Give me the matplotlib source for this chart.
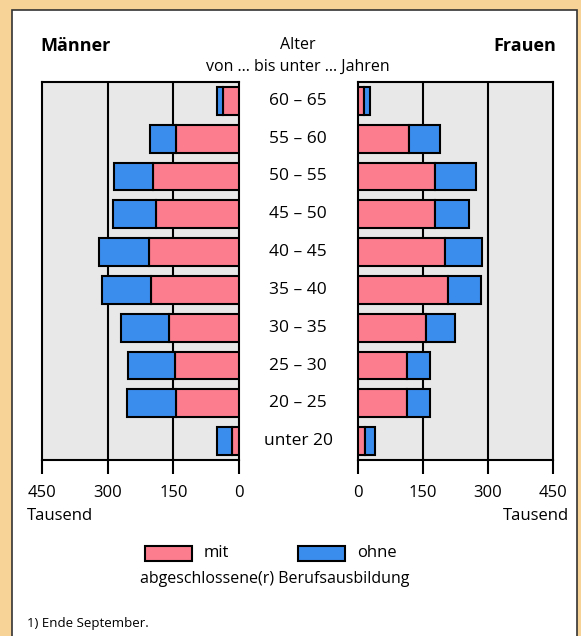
import matplotlib.pyplot as plt
from matplotlib.patches import Rectangle

# --------------------------------------------------
# Data (Tausend), top to bottom
# --------------------------------------------------
ages = ["60 – 65", "55 – 60", "50 – 55", "45 – 50", "40 – 45",
        "35 – 40", "30 – 35", "25 – 30", "20 – 25", "unter 20"]

men_mit = [37, 143, 196, 190, 205, 200, 160, 147, 145, 15]
men_ohne = [13, 61, 90, 98, 115, 114, 109, 107, 111, 36]

women_mit = [13, 118, 177, 177, 201, 208, 158, 114, 113, 15]
women_ohne = [15, 72, 95, 79, 86, 75, 65, 53, 52, 24]

xticks = [0, 150, 300, 450]

pink = "#fb7d8e"
blue = "#3b8ded"
grey = "#e8e8e8"

W, H = 581, 636
fig = plt.figure(figsize=(W / 100, H / 100), dpi=100)
fig.patch.set_facecolor("#f7d398")

# white panel
fig.patches.append(Rectangle((12 / W, -0.01), 565 / W, 1 - 10 / H + 0.01,
                             transform=fig.transFigure, facecolor="white",
                             edgecolor="#333333", linewidth=1.2, zorder=-5))

font = "Open Sans"
plt.rcParams['font.family'] = [font, 'DejaVu Sans']


def px_axes(x0, x1, y0, y1):
    return fig.add_axes([x0 / W, 1 - y1 / H, (x1 - x0) / W, (y1 - y0) / H])


ax_l = px_axes(42, 239, 82, 460)
ax_r = px_axes(358, 553, 82, 460)

y = list(range(len(ages)))

for ax, mit, ohne, inverted in [(ax_l, men_mit, men_ohne, True),
                                (ax_r, women_mit, women_ohne, False)]:
    ax.set_facecolor(grey)
    ax.barh(y, mit, height=0.74, color=pink, edgecolor="black",
            linewidth=1.5, zorder=3)
    ax.barh(y, ohne, left=mit, height=0.74, color=blue, edgecolor="black",
            linewidth=1.5, zorder=3)
    for v in [150, 300]:
        ax.axvline(v, color="black", linewidth=1.5, zorder=1)
    ax.set_ylim(len(ages) - 0.5, -0.5)
    if inverted:
        ax.set_xlim(450, 0)
    else:
        ax.set_xlim(0, 450)
    ax.set_xticks(xticks)
    ax.set_xticklabels([str(t) for t in xticks], fontsize=12)
    ax.set_yticks([])
    ax.tick_params(axis="x", direction="out", length=10, width=1.5, pad=8)
    for s in ax.spines.values():
        s.set_linewidth(1.5)
        s.set_color("black")

# age labels
for i, a in enumerate(ages):
    yy = 82 + (i + 0.5) * 37.8
    fig.text(298 / W, 1 - yy / H, a, ha="center", va="center", fontsize=12.5)

# header
fig.text(40 / W, 1 - 46 / H, "Männer", ha="left", va="center",
         fontsize=13, fontweight="bold")
fig.text(556 / W, 1 - 46 / H, "Frauen", ha="right", va="center",
         fontsize=13, fontweight="bold")
fig.text(298 / W, 1 - 45 / H, "Alter", ha="center", va="center", fontsize=11.5)
fig.text(298 / W, 1 - 67 / H, "von ... bis unter ... Jahren", ha="center",
         va="center", fontsize=11.5)

fig.text(27 / W, 1 - 516 / H, "Tausend", ha="left", va="center", fontsize=12)
fig.text(569 / W, 1 - 516 / H, "Tausend", ha="right", va="center", fontsize=12)

# legend
fig.patches.append(Rectangle((145 / W, 1 - 561 / H), 47 / W, 15 / H,
                             transform=fig.transFigure, facecolor=pink,
                             edgecolor="black", linewidth=1.5))
fig.text(204 / W, 1 - 553 / H, "mit", ha="left", va="center", fontsize=12)
fig.patches.append(Rectangle((298 / W, 1 - 561 / H), 47 / W, 15 / H,
                             transform=fig.transFigure, facecolor=blue,
                             edgecolor="black", linewidth=1.5))
fig.text(357 / W, 1 - 553 / H, "ohne", ha="left", va="center", fontsize=12)
fig.text(275 / W, 1 - 579 / H, "abgeschlossene(r) Berufsausbildung",
         ha="center", va="center", fontsize=11.5)

fig.text(27 / W, 1 - 624 / H, "1) Ende September.", ha="left", va="center",
         fontsize=9.5)

fig.savefig("out.png", dpi=100, facecolor=fig.get_facecolor())
